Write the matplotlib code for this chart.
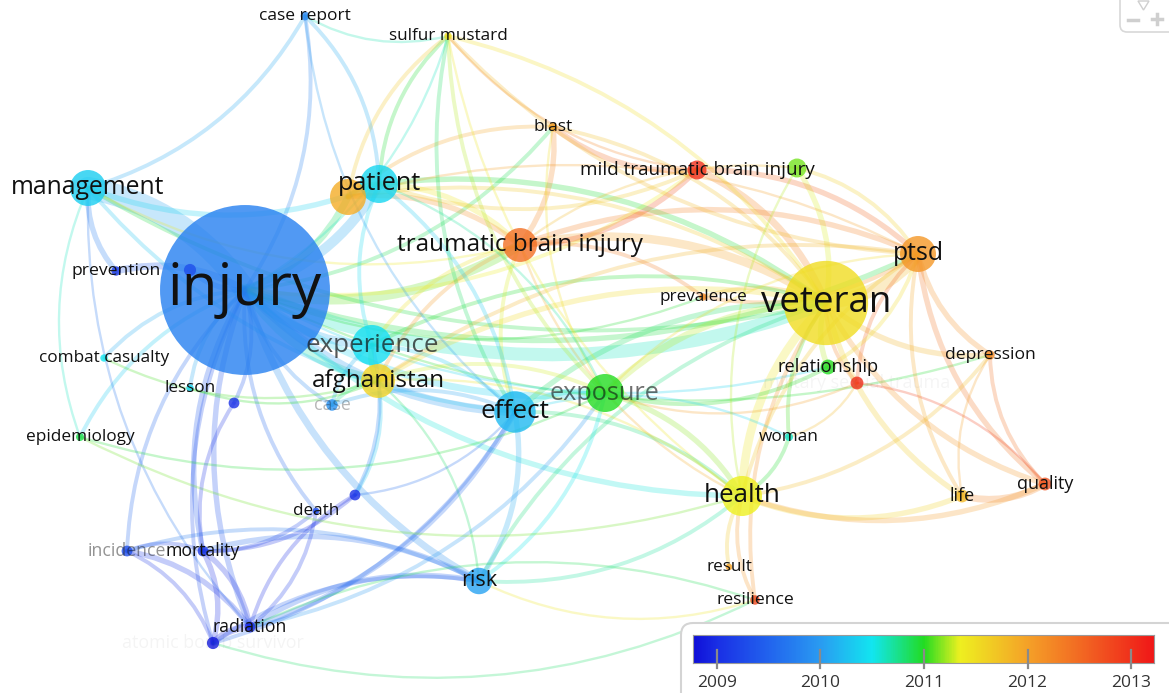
import numpy as np
import matplotlib
matplotlib.use("Agg")
import matplotlib.pyplot as plt
from matplotlib.colors import LinearSegmentedColormap, Normalize
from matplotlib.path import Path
from matplotlib.patches import PathPatch, Circle, FancyBboxPatch, Polygon

plt.rcParams['font.family'] = ['Open Sans', 'DejaVu Sans']

# ---- keyword co-occurrence map (overlay by average publication year) ----
terms = ["injury", "veteran", "management", "patient", "soldier",
         "traumatic brain injury", "ptsd", "experience", "afghanistan", "effect",
         "exposure", "health", "risk", "mild traumatic brain injury", "military",
         "blast", "sulfur mustard", "case report", "prevention", "combat casualty",
         "lesson", "epidemiology", "prevalence", "depression", "relationship",
         "military sexual trauma", "woman", "life", "quality", "result",
         "resilience", "case", "death", "wounded", "incidence",
         "mortality", "radiation", "atomic bomb survivor", "amputation", "fracture"]
map_x = [245, 826, 88, 379, 348, 520, 918, 372, 378, 515,
         605, 742, 479, 697, 797, 553, 448, 305, 116, 104,
         190, 80, 703, 990, 828, 857, 789, 962, 1045, 729,
         755, 332, 316, 355, 127, 203, 250, 213, 190, 234]
map_y = [290, 303, 188, 184, 197, 245, 254, 345, 381, 412,
         393, 496, 581, 170, 168, 127, 36, 16, 271, 358,
         388, 437, 297, 355, 367, 383, 437, 496, 484, 567,
         600, 405, 511, 495, 551, 551, 627, 643, 270, 403]
occurrences = [244, 118, 47, 50, 47, 44, 47, 53, 44, 55,
               50, 53, 33, 22, 22, 7, 5, 7, 8, 5,
               5, 6, 5, 8, 16, 13, 6, 13, 13, 4,
               8, 11, 4, 10, 10, 10, 10, 12, 12, 10]
avg_year = [2009.75, 2011.5, 2010.35, 2010.4, 2011.9, 2012.45, 2012.1, 2010.45, 2011.6, 2010.2,
            2011.0, 2011.35, 2010.05, 2013.0, 2011.15, 2012.0, 2011.5, 2009.8, 2009.1, 2010.5,
            2010.4, 2010.9, 2012.2, 2012.2, 2011.0, 2013.0, 2010.6, 2011.8, 2012.7, 2012.0,
            2012.8, 2009.9, 2009.3, 2009.0, 2009.3, 2009.1, 2008.95, 2008.85, 2009.3, 2009.0]

links = [
    ("injury", "management", 14), ("injury", "patient", 6), ("injury", "soldier", 4),
    ("injury", "experience", 5), ("injury", "afghanistan", 5), ("injury", "traumatic brain injury", 6),
    ("injury", "veteran", 8), ("injury", "effect", 5), ("injury", "exposure", 4),
    ("injury", "risk", 4), ("injury", "prevention", 4), ("injury", "mortality", 3),
    ("injury", "radiation", 3), ("injury", "death", 2), ("injury", "case report", 2),
    ("injury", "combat casualty", 2), ("injury", "lesson", 2), ("injury", "epidemiology", 2),
    ("injury", "health", 3), ("injury", "blast", 2), ("injury", "mild traumatic brain injury", 2),
    ("injury", "ptsd", 3), ("injury", "case", 2), ("injury", "incidence", 2),
    ("injury", "atomic bomb survivor", 2), ("injury", "sulfur mustard", 1),
    ("injury", "depression", 1), ("injury", "prevalence", 1), ("injury", "relationship", 1),
    ("management", "case report", 2), ("management", "prevention", 3), ("management", "patient", 3),
    ("management", "epidemiology", 1), ("management", "effect", 2), ("management", "veteran", 2),
    ("management", "radiation", 1), ("management", "traumatic brain injury", 1),
    ("veteran", "ptsd", 8), ("veteran", "traumatic brain injury", 5),
    ("veteran", "mild traumatic brain injury", 4), ("veteran", "health", 5),
    ("veteran", "depression", 3), ("veteran", "quality", 3), ("veteran", "life", 3),
    ("veteran", "relationship", 3), ("veteran", "exposure", 4), ("veteran", "prevalence", 2),
    ("veteran", "woman", 2), ("veteran", "blast", 2), ("veteran", "sulfur mustard", 2),
    ("veteran", "military", 3), ("veteran", "patient", 3), ("veteran", "afghanistan", 3),
    ("veteran", "effect", 3), ("veteran", "risk", 2), ("veteran", "military sexual trauma", 2),
    ("veteran", "resilience", 2), ("veteran", "experience", 2), ("veteran", "soldier", 2),
    ("ptsd", "depression", 3), ("ptsd", "quality", 3), ("ptsd", "life", 2),
    ("ptsd", "mild traumatic brain injury", 3), ("ptsd", "traumatic brain injury", 3),
    ("ptsd", "health", 2), ("ptsd", "military sexual trauma", 2), ("ptsd", "military", 2),
    ("ptsd", "afghanistan", 2), ("ptsd", "exposure", 1), ("ptsd", "soldier", 1),
    ("traumatic brain injury", "blast", 3), ("traumatic brain injury", "mild traumatic brain injury", 3),
    ("traumatic brain injury", "patient", 3), ("traumatic brain injury", "soldier", 3),
    ("traumatic brain injury", "afghanistan", 2), ("traumatic brain injury", "experience", 2),
    ("traumatic brain injury", "effect", 2), ("traumatic brain injury", "health", 1),
    ("blast", "mild traumatic brain injury", 3), ("blast", "soldier", 2), ("blast", "exposure", 1),
    ("sulfur mustard", "patient", 2), ("sulfur mustard", "exposure", 2),
    ("sulfur mustard", "effect", 2), ("sulfur mustard", "soldier", 2),
    ("sulfur mustard", "mild traumatic brain injury", 1), ("sulfur mustard", "ptsd", 2),
    ("sulfur mustard", "health", 1),
    ("health", "life", 3), ("health", "quality", 3), ("health", "result", 2),
    ("health", "resilience", 2), ("health", "woman", 2), ("health", "exposure", 3),
    ("health", "effect", 2), ("health", "depression", 2), ("health", "afghanistan", 1),
    ("life", "quality", 4), ("depression", "quality", 2), ("depression", "life", 1),
    ("risk", "effect", 3), ("risk", "exposure", 2), ("risk", "mortality", 3),
    ("risk", "radiation", 3), ("risk", "health", 2), ("risk", "atomic bomb survivor", 2),
    ("risk", "incidence", 2), ("risk", "resilience", 1), ("risk", "afghanistan", 1),
    ("radiation", "mortality", 3), ("radiation", "incidence", 3),
    ("radiation", "atomic bomb survivor", 4), ("radiation", "death", 2),
    ("radiation", "effect", 3), ("radiation", "exposure", 2),
    ("atomic bomb survivor", "incidence", 2), ("atomic bomb survivor", "mortality", 3),
    ("atomic bomb survivor", "effect", 2), ("atomic bomb survivor", "resilience", 1),
    ("mortality", "incidence", 2), ("mortality", "death", 2), ("mortality", "wounded", 2),
    ("wounded", "afghanistan", 2), ("wounded", "experience", 2), ("wounded", "radiation", 2),
    ("wounded", "effect", 1),
    ("exposure", "effect", 3), ("exposure", "afghanistan", 2), ("exposure", "relationship", 2),
    ("exposure", "military sexual trauma", 1), ("exposure", "patient", 1),
    ("effect", "patient", 2), ("effect", "experience", 2), ("effect", "case", 2),
    ("patient", "soldier", 3), ("patient", "case report", 2), ("patient", "experience", 2),
    ("patient", "mild traumatic brain injury", 2),
    ("experience", "afghanistan", 3), ("experience", "case", 2), ("afghanistan", "case", 2),
    ("epidemiology", "exposure", 1), ("epidemiology", "health", 1),
    ("combat casualty", "afghanistan", 1), ("lesson", "afghanistan", 1),
    ("amputation", "injury", 3), ("fracture", "injury", 2), ("fracture", "mortality", 2),
    ("case report", "sulfur mustard", 1), ("case report", "effect", 1),
    ("prevalence", "traumatic brain injury", 2), ("prevalence", "ptsd", 2),
    ("relationship", "ptsd", 2), ("woman", "effect", 1), ("woman", "military sexual trauma", 1),
    ("quality", "military sexual trauma", 1), ("resilience", "radiation", 1),
    ("military", "health", 1), ("military", "traumatic brain injury", 1),
]

year_min, year_max = 2008.77, 2013.22
year_ticks = [2009, 2010, 2011, 2012, 2013]

# labels that are not drawn, and labels drawn faded
hidden_labels = {"soldier", "military", "wounded", "amputation", "fracture"}
faded_labels = {"incidence": 0.45, "case": 0.3, "atomic bomb survivor": 0.045,
                "military sexual trauma": 0.04, "experience": 0.7, "exposure": 0.6}

# ---- colour scale ----
stops = [(2008.77, '#1010d8'), (2009.0, '#1a30e6'), (2009.5, '#2264ee'),
         (2010.0, '#2a9cf2'), (2010.5, '#12e6f0'), (2011.0, '#22dc22'),
         (2011.35, '#eef020'), (2012.0, '#f5a228'), (2012.6, '#f26022'),
         (2013.22, '#f01818')]
cmap = LinearSegmentedColormap.from_list(
    "overlay", [((y - year_min) / (year_max - year_min), c) for y, c in stops])
norm = Normalize(year_min, year_max)

W, H = 1169, 693
fig = plt.figure(figsize=(W / 100, H / 100), dpi=100)
ax = fig.add_axes([0, 0, 1, 1])
ax.set_xlim(0, W)
ax.set_ylim(H, 0)
ax.axis('off')

idx = {t: i for i, t in enumerate(terms)}

# links as curved bands
for a, b, w in links:
    i, j = idx[a], idx[b]
    p0 = np.array([map_x[i], map_y[i]], float)
    p1 = np.array([map_x[j], map_y[j]], float)
    d = p1 - p0
    ctrl = (p0 + p1) / 2 + 0.2 * np.array([-d[1], d[0]])
    path = Path([p0, ctrl, p1], [Path.MOVETO, Path.CURVE3, Path.CURVE3])
    col = cmap(norm((avg_year[i] + avg_year[j]) / 2))
    ax.add_patch(PathPatch(path, facecolor='none', edgecolor=col,
                           lw=0.6 + 1.1 * w, alpha=0.26, capstyle='round', zorder=1))

# nodes
radius = [2 + 0.34 * o for o in occurrences]
order = np.argsort(occurrences)[::-1]
for i in order:
    ax.add_patch(Circle((map_x[i], map_y[i]), radius[i],
                        facecolor=cmap(norm(avg_year[i])), edgecolor='none',
                        alpha=0.8, zorder=2))

# labels
font_pt = np.interp(occurrences, [4, 22, 44, 118, 244], [12.3, 13.6, 17.5, 26.5, 42])
for i, t in enumerate(terms):
    if t in hidden_labels:
        continue
    ax.text(map_x[i], map_y[i], t, fontsize=font_pt[i], color='#111111',
            alpha=faded_labels.get(t, 1.0), ha='center', va='center', zorder=3)

# legend panel
ax.add_patch(FancyBboxPatch((681, 623), 520, 90, boxstyle="round,pad=0,rounding_size=12",
                            facecolor='white', edgecolor='#d4d4d4', lw=1.5, zorder=4))
cax = fig.add_axes([693 / W, 1 - 663 / H, (1154 - 693) / W, 28 / H])
grad = np.linspace(year_min, year_max, 600).reshape(1, -1)
cax.imshow(grad, aspect='auto', cmap=cmap, norm=norm,
           extent=[year_min, year_max, 0, 1])
cax.set_xlim(year_min, year_max)
cax.set_ylim(0, 1)
cax.set_xticks([])
cax.set_yticks([])
for y in year_ticks:
    cax.plot([y, y], [0.45, -0.18], color='#8a8a8a', lw=1.6, clip_on=False, zorder=5)
    cax.text(y, -0.7, str(y), fontsize=12.5, color='#333333',
             ha='center', va='center', clip_on=False)
for s in cax.spines.values():
    s.set_edgecolor('#9a9a9a')
    s.set_linewidth(0.8)

# zoom controls in the corner
ax.add_patch(FancyBboxPatch((1120, -12), 60, 44, boxstyle="round,pad=0,rounding_size=7",
                            facecolor='white', edgecolor='#d8d8d8', lw=1.2, zorder=4))
ax.add_patch(Polygon([[1138, 1], [1149, 1], [1143.5, 10]], closed=True, facecolor='none',
                     edgecolor='#cfcfcf', lw=1.0, zorder=5))
ax.plot([1128, 1138], [20, 20], color='#cfcfcf', lw=2.5, zorder=5)
ax.plot([1152, 1162], [19, 19], color='#cfcfcf', lw=2.5, zorder=5)
ax.plot([1157, 1157], [14, 24], color='#cfcfcf', lw=2.5, zorder=5)

fig.savefig("out.png", dpi=100)
